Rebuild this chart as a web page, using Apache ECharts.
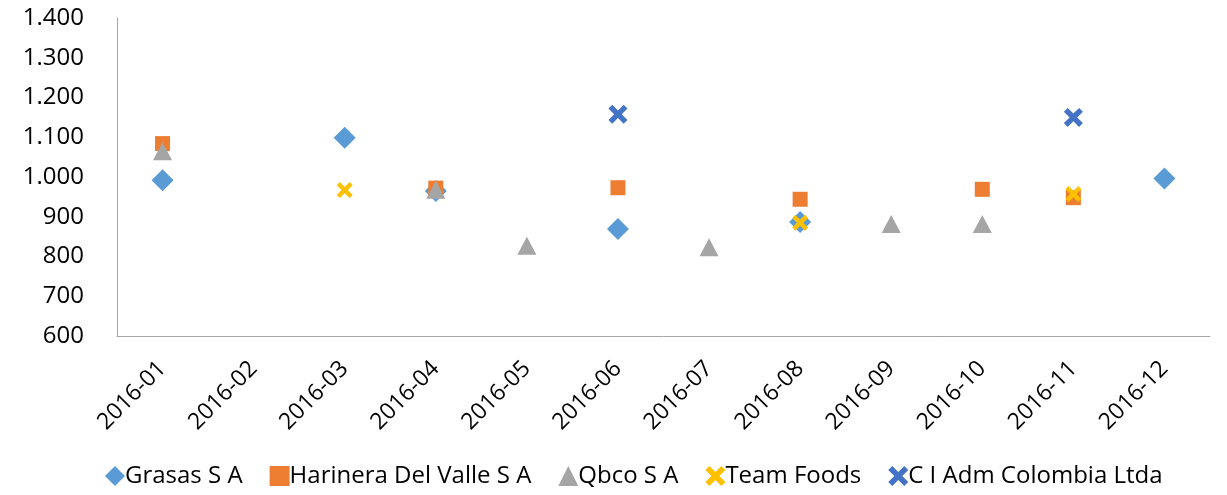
<!DOCTYPE html>
<html>
<head>
<meta charset="utf-8">
<script src="https://cdn.jsdelivr.net/npm/echarts@6/dist/echarts.min.js"></script>
<style>
html,body{margin:0;padding:0;background:#fff;}
#c{width:1227px;height:495px;}
</style>
</head>
<body>
<div id="c"></div>
<script>
var categories = ['2016-01','2016-02','2016-03','2016-04','2016-05','2016-06','2016-07','2016-08','2016-09','2016-10','2016-11','2016-12'];
var grasas    = [992, '-', 1099, 965, '-', 869, '-', 887, '-', '-', '-', 996];
var harinera  = [1084, '-', '-', 972, '-', 973, '-', 944, '-', 969, 948, '-'];
var qbco      = [1065, '-', '-', 968, 827, '-', 823, '-', 882, 882, '-', '-'];
var teamFoods = ['-', '-', 967, '-', '-', '-', '-', 885, '-', '-', 957, '-'];
var ciAdm     = ['-', '-', '-', '-', '-', 1158, '-', '-', '-', '-', 1150, '-'];
var seriesNames = ['Grasas S A','Harinera Del Valle S A','Qbco S A','Team Foods','C I Adm Colombia Ltda'];
var yMin = 600, yMax = 1400, yStep = 100;

var xPath = 'path://M0,2 L2,0 L5,3 L8,0 L10,2 L7,5 L10,8 L8,10 L5,7 L2,10 L0,8 L3,5 Z';
var font = 'Open Sans, Noto Sans, sans-serif';

function fmt(v){ return String(v).replace(/\B(?=(\d{3})+(?!\d))/g, '.'); }

var chart = echarts.init(document.getElementById('c'), null, {renderer:'canvas'});
chart.setOption({
  animation:false,
  backgroundColor:'#fff',
  grid:{left:117, right:17, top:18, bottom:159, containLabel:false},
  legend:{
    bottom:2, left:100, itemGap:27, itemWidth:20, itemHeight:20,
    textStyle:{fontFamily:font, fontSize:24, color:'#000', padding:[0,0,0,-5]},
    data:seriesNames
  },
  xAxis:{
    type:'category', data:categories, boundaryGap:true,
    axisLine:{lineStyle:{color:'#a6a6a6', width:1}},
    axisTick:{show:false},
    axisLabel:{rotate:45, interval:0, fontFamily:font, fontSize:23, color:'#000', margin:29}
  },
  yAxis:{
    type:'value', min:yMin, max:yMax, interval:yStep,
    axisLine:{show:true, lineStyle:{color:'#a6a6a6', width:1}},
    axisTick:{show:false},
    splitLine:{show:false},
    axisLabel:{fontFamily:font, fontSize:24, color:'#000', margin:33, formatter:fmt}
  },
  series:[
    {name:seriesNames[0], type:'scatter', data:grasas, symbol:'diamond', symbolSize:[22,22], itemStyle:{color:'#5B9BD5', opacity:1}},
    {name:seriesNames[1], type:'scatter', data:harinera, symbol:'rect', symbolSize:[15,15], itemStyle:{color:'#ED7D31', opacity:1}},
    {name:seriesNames[2], type:'scatter', data:qbco, symbol:'triangle', symbolSize:[19,18], itemStyle:{color:'#A5A5A5', opacity:1}},
    {name:seriesNames[3], type:'scatter', data:teamFoods, symbol:xPath, symbolSize:[16,16], itemStyle:{color:'#FFC000', opacity:1}},
    {name:seriesNames[4], type:'scatter', data:ciAdm, symbol:xPath, symbolSize:[19,19], itemStyle:{color:'#4472C4', opacity:1}}
  ]
});
</script>
</body>
</html>
